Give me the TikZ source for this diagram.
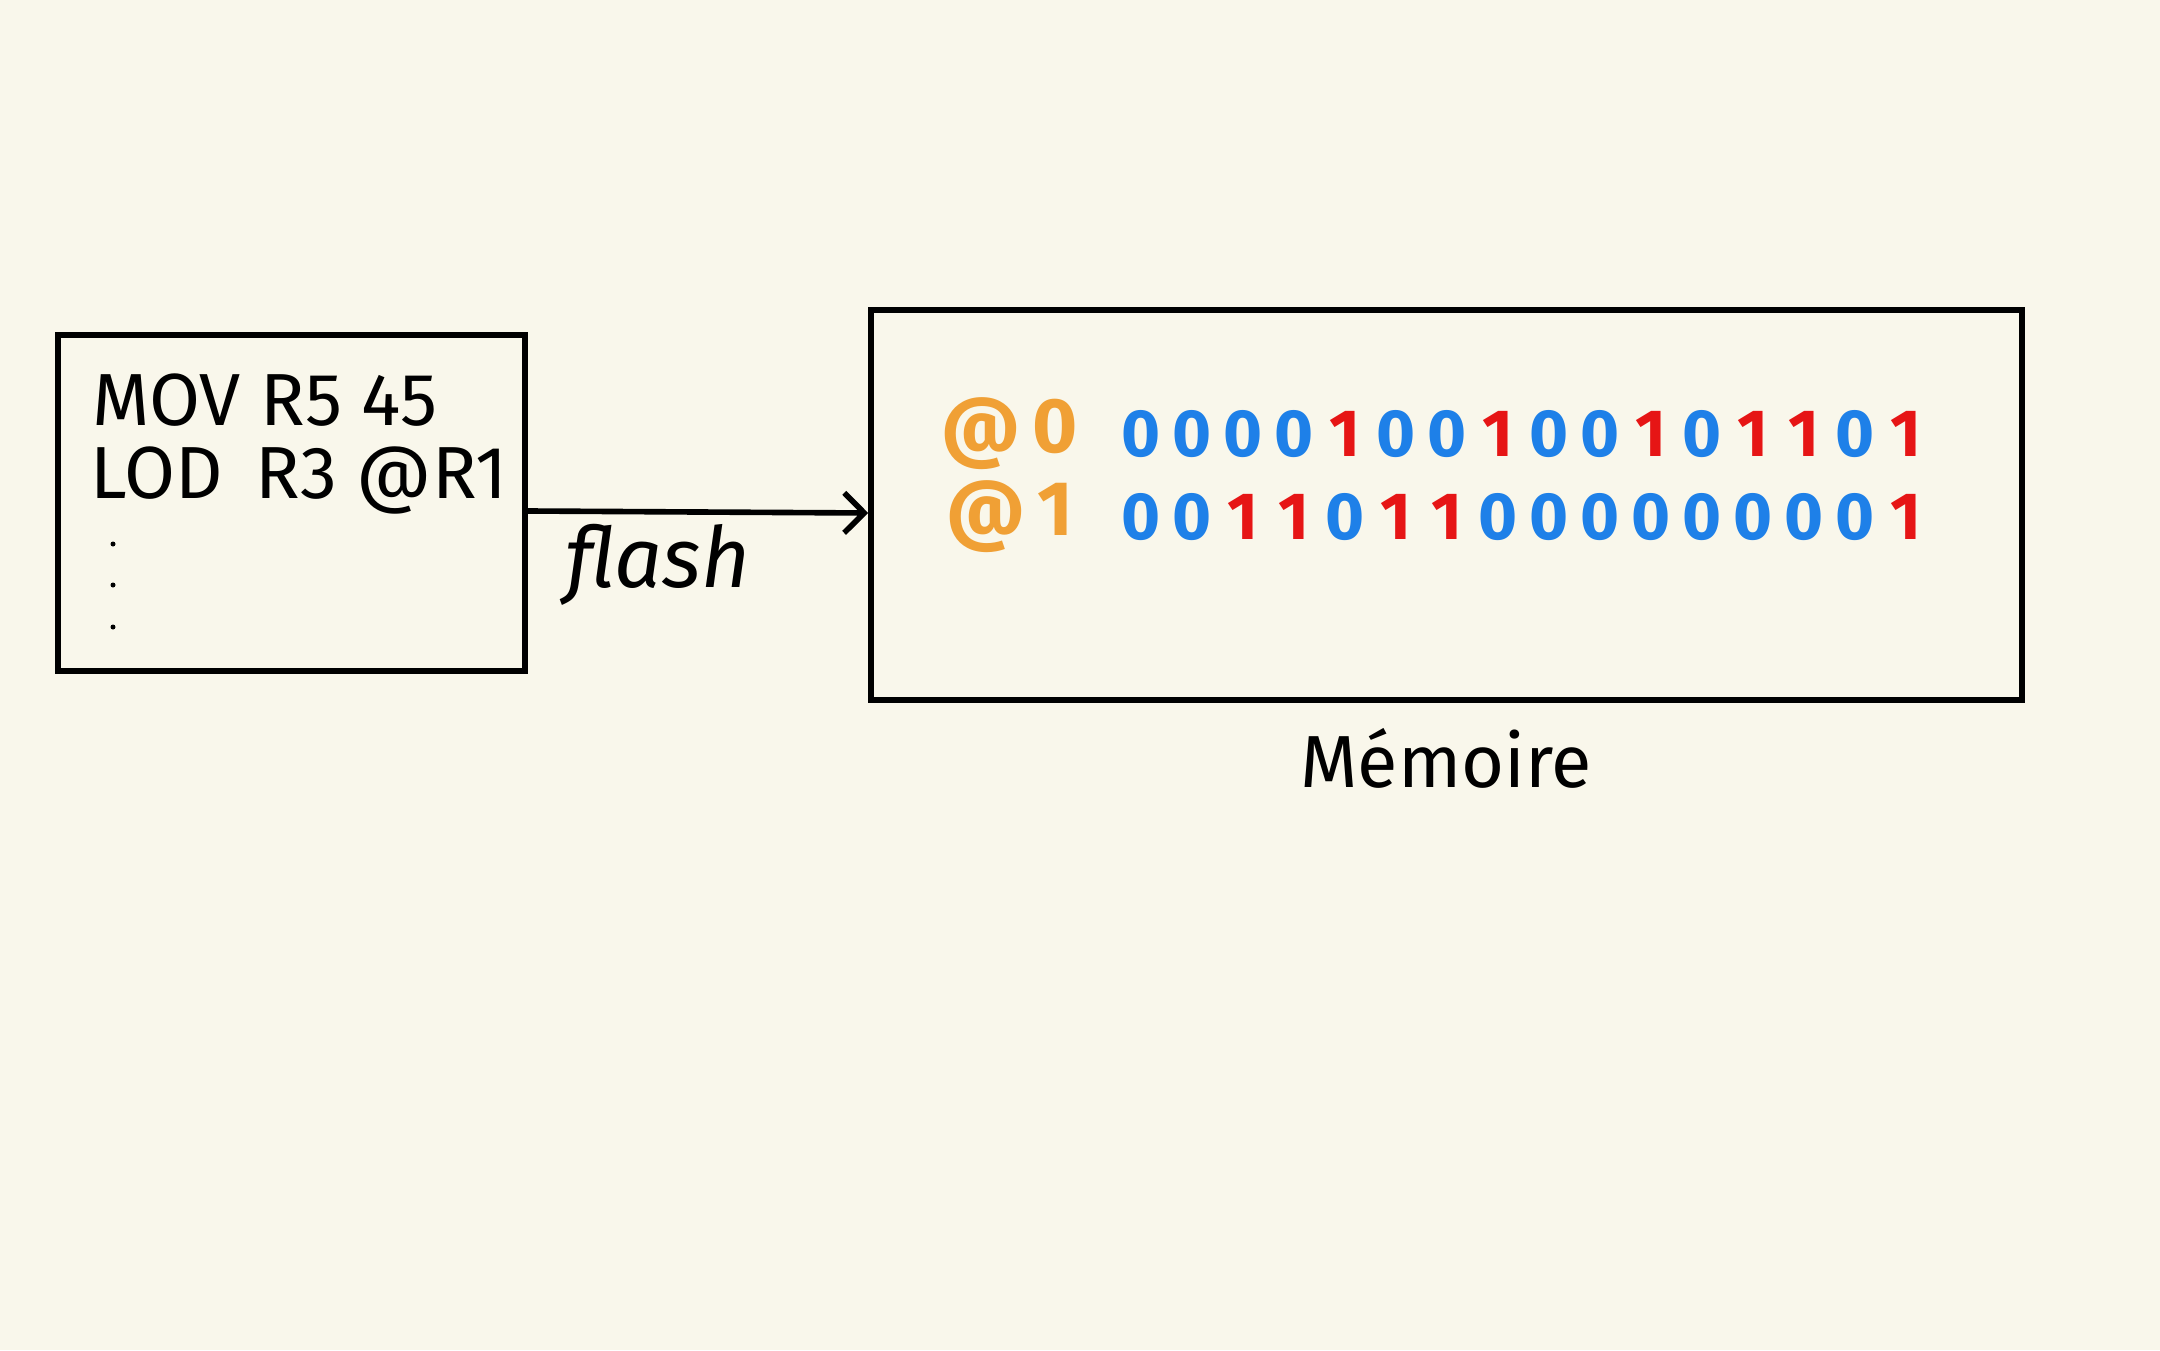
\documentclass[tikz,border=0pt]{standalone}
\usepackage{fontspec}
\setmainfont{Fira Sans}
\usetikzlibrary{arrows.meta}
\definecolor{bgcream}{HTML}{F9F7EB}
\definecolor{addrorange}{HTML}{F0A035}
\definecolor{bitblue}{HTML}{1E80E8}
\definecolor{bitred}{HTML}{E61515}
\newcommand{\zbit}{\makebox[0.51cm]{\color{bitblue}0}}
\newcommand{\obit}{\makebox[0.51cm]{\color{bitred}1}}
\begin{document}
\begin{tikzpicture}[>={Straight Barb[length=2mm,width=4mm]},line width=1.6pt]
\useasboundingbox (0,0) rectangle (21.6,13.5);
\fill[bgcream] (0,0) rectangle (21.6,13.5);

\node[draw,minimum width=4.67cm,minimum height=3.36cm] (code) at (2.915,8.47) {};
\node[draw,minimum width=11.51cm,minimum height=3.90cm] (mem) at (14.465,8.45) {};

\node[anchor=west,font=\fontsize{21}{25}\selectfont] (l1) at (0.78,9.5) {MOV R5 45};
\node[anchor=west,font=\fontsize{21}{25}\selectfont] (l2) at (0.76,8.7) {LOD\hspace{0.45em}R3 @R1};
\fill (1.13,8.06) circle (0.025);
\fill (1.13,7.65) circle (0.025);
\fill (1.13,7.23) circle (0.025);

\draw[->] ([yshift=-0.08cm]code.east) -- ([yshift=-0.08cm]mem.west);
\node[font=\fontsize{24}{28}\itshape] (flash) at (6.58,7.85) {flash};

\node[text=addrorange,font=\fontsize{22}{26}\bfseries] (a0) at (10.1,9.16) {@\hspace{0.12cm}0};
\node[text=addrorange,font=\fontsize{22}{26}\bfseries] (a1) at (10.1,8.33) {@\hspace{0.12cm}1};

\node[anchor=west,inner sep=0pt,font=\fontsize{19}{22}\bfseries] (r0) at (11.125,9.16)
  {\zbit\zbit\zbit\zbit\obit\zbit\zbit\obit\zbit\zbit\obit\zbit\obit\obit\zbit\obit};
\node[anchor=west,inner sep=0pt,font=\fontsize{19}{22}\bfseries] (r1) at (11.125,8.33)
  {\zbit\zbit\obit\obit\zbit\obit\obit\zbit\zbit\zbit\zbit\zbit\zbit\zbit\zbit\obit};

\node[font=\fontsize{21}{25}\selectfont] (memlabel) at (14.46,5.92) {Mémoire};
\end{tikzpicture}
\end{document}
